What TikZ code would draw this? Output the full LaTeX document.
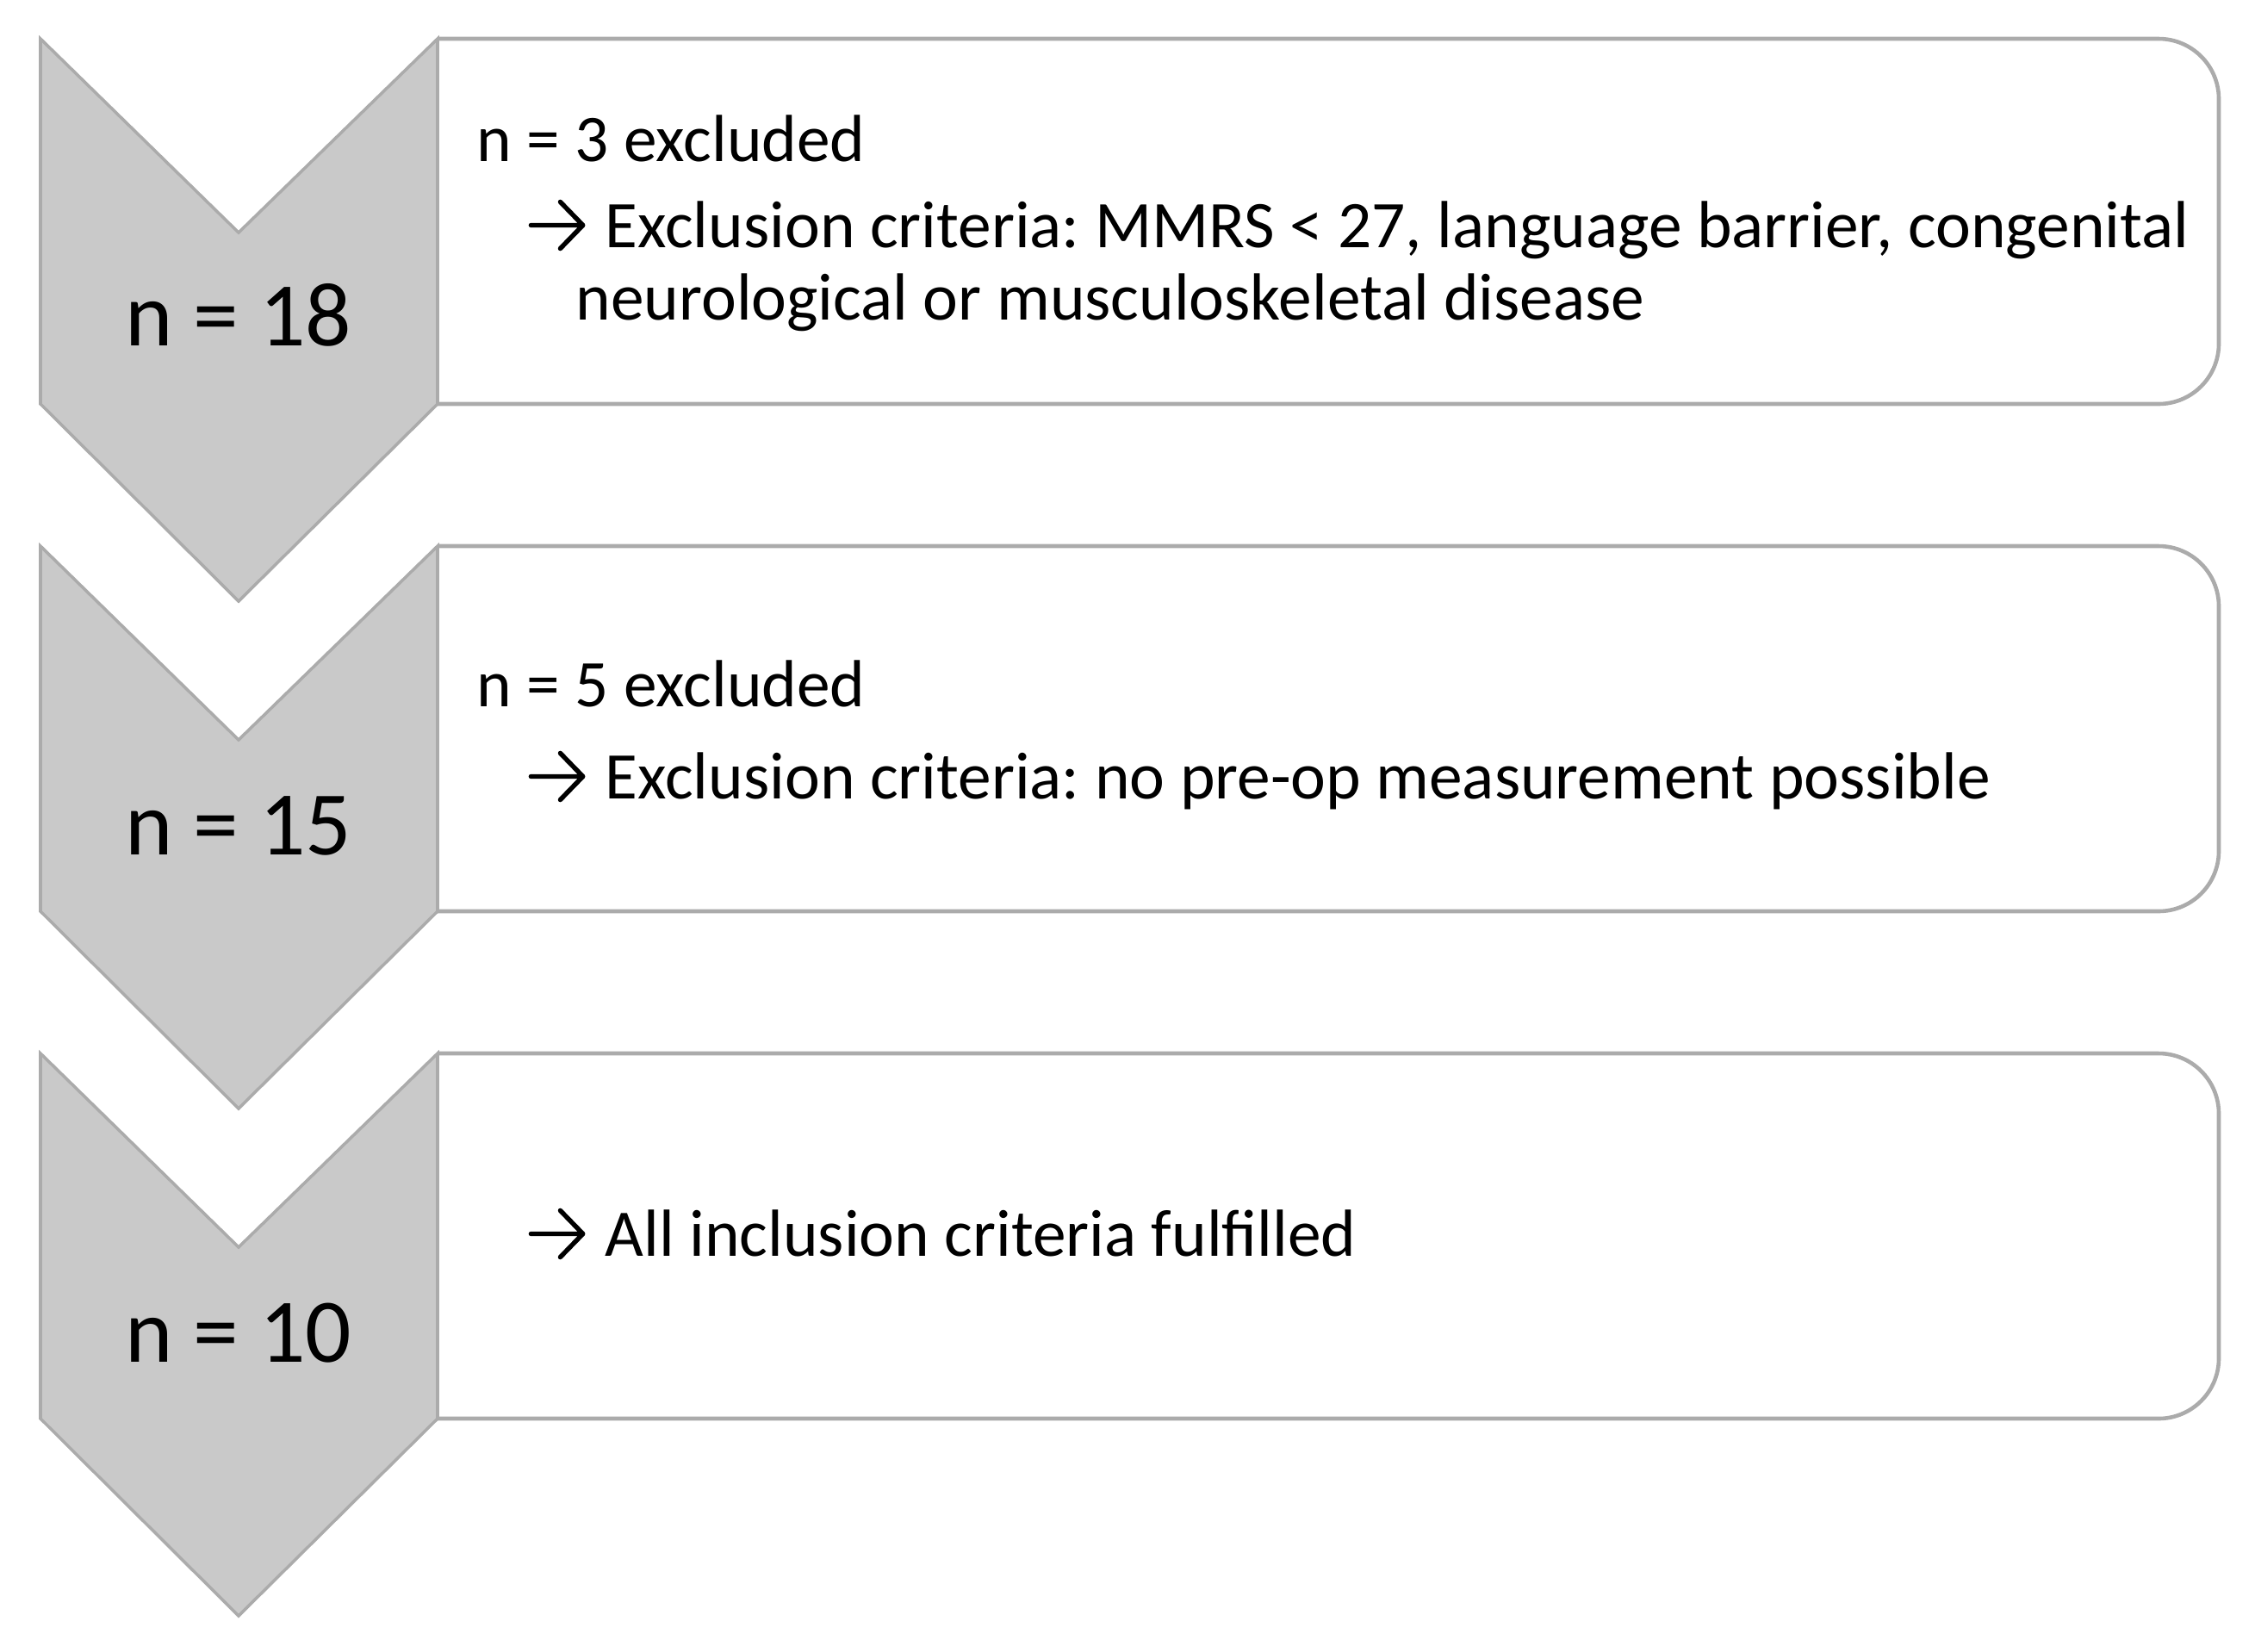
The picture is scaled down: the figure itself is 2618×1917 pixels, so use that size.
\documentclass[tikz,border=0pt]{standalone}
\usepackage{fontspec}
\setmainfont{Carlito}
\definecolor{chevfill}{HTML}{C9C9C9}
\definecolor{chevline}{HTML}{ABABAB}
\definecolor{boxline}{HTML}{ABABAB}
\newcommand{\rarr}{\tikz[baseline=0pt,x=1em,y=1em]{\draw[black,line width=0.07em,line cap=round,line join=round] (0,0.33) -- (0.78,0.33) (0.44,0.68) -- (0.78,0.33) -- (0.44,-0.02);}\hspace{0.3em}}
\frenchspacing
\begin{document}
\begin{tikzpicture}[x=0.01cm,y=-0.01cm,
  chevst/.style={fill=chevfill,draw=chevline,line width=1pt,line join=miter},
  boxst/.style={fill=white,draw=boxline,line width=1.3pt,rounded corners=0.7cm},
  bodytext/.style={anchor=base west,inner sep=0pt,font=\fontsize{22}{26}\selectfont},
  bigtext/.style={anchor=base,inner sep=0pt,font=\fontsize{30}{36}\selectfont}]
\path[use as bounding box] (0,0) rectangle (2618,1917);
\foreach \k in {0,1,2}{
  \pgfmathsetmacro{\dy}{589*\k}
  \begin{scope}[yshift=-\dy*0.01cm]
    \filldraw[boxst] (508,45) -- (2576,45) -- (2576,469) -- (508,469);
    \filldraw[chevst] (47,45) -- (277,270) -- (508,45) -- (508,469) -- (277,698) -- (47,469) -- cycle;
  \end{scope}
}
% box 1
\node[bigtext] (c1) at (277,401) {n = 18};
\node[bodytext] (t1a) at (553,187) {n = 3 excluded};
\node[bodytext] (t1b) at (613,287) {\rarr Exclusion criteria: MMRS < 27, language barrier, congenital};
\node[bodytext] (t1c) at (668,371) {neurological or musculoskeletal disease};
% box 2
\node[bigtext] (c2) at (277,992) {n = 15};
\node[bodytext] (t2a) at (553,820) {n = 5 excluded};
\node[bodytext] (t2b) at (613,927) {\rarr Exclusion criteria: no pre-op measurement possible};
% box 3
\node[bigtext] (c3) at (277,1581) {n = 10};
\node[bodytext] (t3a) at (613,1458) {\rarr All inclusion criteria fulfilled};
\end{tikzpicture}
\end{document}
